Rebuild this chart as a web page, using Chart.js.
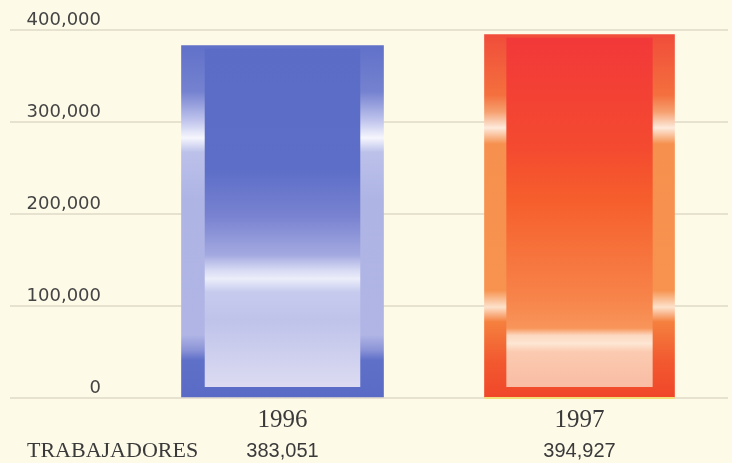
<!DOCTYPE html>
<html>
<head>
<meta charset="utf-8">
<script src="https://cdn.jsdelivr.net/npm/chart.js@4.4.1/dist/chart.umd.min.js"></script>
<style>
  html, body { margin: 0; padding: 0; background: #fdfae8; }
  #wrap { width: 732px; height: 463px; position: relative; }
</style>
</head>
<body>
<div id="wrap"><canvas id="chart"></canvas></div>
<script>
// chart data
const years = ['1996', '1997'];
const trabajadores = [383051, 394927];
const yTicks = [0, 100000, 200000, 300000, 400000];
const rowLabel = 'TRABAJADORES';

// gradient stops (fraction of plot height from top) for frame and inner panel of each bar
const barStyles = [
    {
        thickness: 202,
        baseLine: null,
        frame: [[0, '#5a6bc6'], [0.168, '#7582d0'], [0.25, '#c4c8ee'], [0.293, '#f6f6fd'], [0.332, '#bcc1ea'],
                [0.462, '#aeb4e4'], [0.829, '#b0b5e5'], [0.87, '#8a93d6'], [0.897, '#5f70c8'], [1, '#5a6bc6']],
        inner: [[0, '#5a6cc6'], [0.38, '#5d6ec8'], [0.505, '#7882d0'], [0.611, '#a3a9e0'], [0.652, '#d6d9f3'],
                [0.676, '#eceefa'], [0.712, '#c6cbee'], [0.788, '#bfc3ea'], [0.97, '#dcdbf2'], [1, '#dcdbf2']]
    },
    {
        thickness: 190,
        baseLine: '#f3df76',
        frame: [[0, '#f04a3a'], [0.177, '#f4703e'], [0.223, '#f6a070'], [0.266, '#fdeadc'], [0.31, '#f6904e'],
                [0.707, '#f7924f'], [0.753, '#fde2cc'], [0.793, '#f5803e'], [0.897, '#f25a30'], [1, '#f0462a']],
        inner: [[0, '#f2373a'], [0.32, '#f44a30'], [0.46, '#f65e2c'], [0.73, '#f7844a'], [0.81, '#f8955a'],
                [0.83, '#fcd8c0'], [0.852, '#fde6d4'], [0.875, '#fbcab0'], [1, '#f8b8a0']]
    }
];

function makeGradient(ctx, area, stops) {
    const g = ctx.createLinearGradient(0, area.top, 0, area.bottom);
    stops.forEach(s => g.addColorStop(s[0], s[1]));
    return g;
}

// paints the inner panel on top of every bar
const panelPlugin = {
    id: 'panels',
    afterDatasetsDraw(chart) {
        const ctx = chart.ctx;
        const area = chart.chartArea;
        chart.data.datasets.forEach((ds, di) => {
            const meta = chart.getDatasetMeta(di);
            meta.data.forEach((el, j) => {
                if (ds.data[j] == null) return;
                const p = el.getProps(['x', 'y', 'base', 'width'], true);
                const inset = p.width * 0.115;
                const left = p.x - p.width / 2 + inset;
                const right = p.x + p.width / 2 - inset;
                ctx.save();
                ctx.fillStyle = makeGradient(ctx, area, barStyles[di].inner);
                ctx.fillRect(left, p.y + 3, right - left, p.base - 10 - (p.y + 3));
                if (barStyles[di].baseLine) {
                    ctx.fillStyle = barStyles[di].baseLine;
                    ctx.fillRect(p.x - p.width / 2, p.base, p.width, 2);
                }
                ctx.restore();
            });
        });
    }
};

// the "TRABAJADORES" row under the year labels
const rowPlugin = {
    id: 'rowLabels',
    afterDraw(chart) {
        const ctx = chart.ctx;
        const x = chart.scales.x;
        ctx.save();
        ctx.fillStyle = '#3a3a3a';
        ctx.textBaseline = 'alphabetic';
        ctx.font = '22px "Liberation Serif"';
        ctx.textAlign = 'left';
        ctx.fillText(rowLabel, 27, 457);
        ctx.font = '20px "Liberation Sans"';
        ctx.textAlign = 'center';
        trabajadores.forEach((v, i) => {
            ctx.fillText(v.toLocaleString('en-US'), x.getPixelForValue(i), 457);
        });
        ctx.restore();
    }
};

const datasets = trabajadores.map((v, i) => ({
    label: years[i],
    data: trabajadores.map((w, j) => (j === i ? w : null)),
    barThickness: barStyles[i].thickness,
    grouped: false,
    backgroundColor: function(c) {
        const area = c.chart.chartArea;
        if (!area) return '#888';
        return makeGradient(c.chart.ctx, area, barStyles[i].frame);
    },
    borderWidth: 0
}));

new Chart(document.getElementById('chart'), {
    type: 'bar',
    data: { labels: years, datasets: datasets },
    options: {
        responsive: true,
        maintainAspectRatio: false,
        animation: false,
        layout: { padding: { top: 30, right: 4, left: 0, bottom: 0 } },
        plugins: {
            legend: { display: false },
            tooltip: { enabled: false }
        },
        scales: {
            x: {
                grid: { display: false, drawTicks: false },
                border: { display: false },
                ticks: {
                    color: '#3a3a3a',
                    padding: 7,
                    font: { family: '"Liberation Serif"', size: 25 }
                },
                afterFit: s => { s.height = 65; }
            },
            y: {
                min: 0,
                max: 400000,
                afterBuildTicks: s => { s.ticks = yTicks.map(v => ({ value: v })); },
                grid: { color: '#e6e2cf', lineWidth: 2, tickLength: 124 },
                border: { display: false },
                ticks: {
                    color: '#444',
                    padding: -91,
                    labelOffset: -10,
                    font: { family: '"DejaVu Sans"', size: 18 },
                    callback: v => v.toLocaleString('en-US')
                },
                afterFit: s => { s.width = 134; }
            }
        }
    },
    plugins: [panelPlugin, rowPlugin]
});
</script>
</body>
</html>
